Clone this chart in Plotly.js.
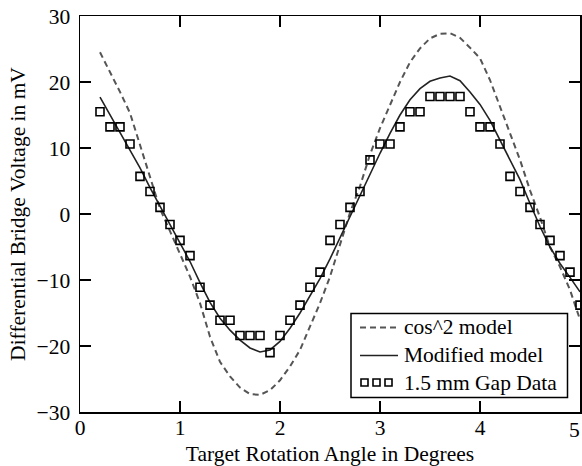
<!DOCTYPE html>
<html>
<head>
<meta charset="utf-8">
<script src="https://cdn.plot.ly/plotly-3.0.1.min.js"></script>
<style>html,body{margin:0;padding:0;background:#fff;}#chart{width:582px;height:466px;}</style>
</head>
<body>
<div id="chart"></div>
<script>
// Data
const angleModel = [0.2,0.3,0.4,0.5,0.6,0.7,0.8,0.9,1.0,1.1,1.2,1.3,1.4,1.5,1.6,1.7,1.8,1.9,2.0,2.1,2.2,2.3,2.4,2.5,2.6,2.7,2.8,2.9,3.0,3.1,3.2,3.3,3.4,3.5,3.6,3.7,3.8,3.9,4.0,4.1,4.2,4.3,4.4,4.5,4.6,4.7,4.8,4.9,5.0];
const cos2Model = [24.5,21.6,18.5,15.3,10.5,5.4,0.8,-2.6,-6.0,-9.5,-13.5,-18.6,-22.4,-24.6,-26.3,-27.3,-27.4,-26.7,-25.2,-23.1,-20.6,-17.1,-13.5,-9.5,-4.5,0.2,4.2,9.0,13.0,16.6,20.0,23.0,25.1,26.6,27.3,27.4,26.7,25.2,23.6,20.3,16.3,12.2,8.2,3.6,-0.5,-5.0,-8.0,-11.5,-16.0];
const modifiedModel = [17.7,15.0,12.4,9.7,7.0,4.0,1.2,-1.6,-4.3,-7.2,-10.4,-13.4,-15.8,-17.6,-19.1,-20.3,-20.9,-20.6,-19.3,-17.3,-15.0,-12.5,-9.8,-6.8,-3.6,-0.4,2.8,6.2,9.2,12.2,15.0,17.3,19.0,20.1,20.6,20.9,20.2,18.5,16.6,14.2,11.2,8.2,5.2,1.6,-1.9,-5.0,-7.5,-9.6,-11.8];
const angleData = [0.2,0.3,0.4,0.5,0.6,0.7,0.8,0.9,1.0,1.1,1.2,1.3,1.4,1.5,1.6,1.7,1.8,1.9,2.0,2.1,2.2,2.3,2.4,2.5,2.6,2.7,2.8,2.9,3.0,3.1,3.2,3.3,3.4,3.5,3.6,3.7,3.8,3.9,4.0,4.1,4.2,4.3,4.4,4.5,4.6,4.7,4.8,4.9,5.0];
const gapData = [15.5,13.2,13.2,10.6,5.7,3.4,1.0,-1.6,-4.0,-6.3,-11.1,-13.8,-16.1,-16.1,-18.4,-18.4,-18.4,-21.0,-18.4,-16.1,-13.8,-11.1,-8.8,-4.0,-1.6,1.0,3.4,8.2,10.6,10.6,13.2,15.5,15.5,17.8,17.8,17.8,17.8,15.5,13.2,13.2,10.6,5.7,3.4,1.0,-1.6,-4.0,-6.3,-8.8,-13.8];
const legendLabels = ["cos^2 model", "Modified model", "1.5 mm Gap Data"];
const lastTickValue = 5;
const xTitle = "Target Rotation Angle in Degrees";
const yTitle = "Differential Bridge Voltage in mV";

const FONT = "Liberation Serif, Times New Roman, serif";
const FS = 21.5;

const traces = [
  {x: angleModel, y: cos2Model, mode: 'lines', name: legendLabels[0],
   line: {color: '#555555', width: 2, dash: '6px,4px'}, showlegend: false},
  {x: angleModel, y: modifiedModel, mode: 'lines', name: legendLabels[1],
   line: {color: '#222222', width: 1.6}, showlegend: false},
  {x: angleData, y: gapData, mode: 'markers', name: legendLabels[2],
   marker: {symbol: 'square-open', size: 8, color: '#000', line: {width: 1.6, color: '#000'}}, showlegend: false}
];

// Custom legend (paper coordinates computed from pixel geometry)
const W = 500, H = 396, L = 80, T = 16;
const px = v => (v - L) / W;
const py = v => (T + H - v) / H;

const shapes = [
  {type: 'rect', xref: 'paper', yref: 'paper', x0: px(351), x1: px(567.5), y0: py(397.5), y1: py(313.5),
   line: {color: '#000', width: 1.5}, fillcolor: '#fff', layer: 'above'},
  {type: 'line', xref: 'paper', yref: 'paper', x0: px(360), x1: px(398), y0: py(327.5), y1: py(327.5),
   line: {color: '#555555', width: 2, dash: '6px,4px'}, layer: 'above'},
  {type: 'line', xref: 'paper', yref: 'paper', x0: px(360), x1: px(398), y0: py(355.5), y1: py(355.5),
   line: {color: '#222222', width: 1.6}, layer: 'above'}
];
[364.5, 376.5, 388.5].forEach(cx => {
  shapes.push({type: 'rect', xref: 'paper', yref: 'paper', x0: px(cx - 3.5), x1: px(cx + 3.5), y0: py(382.5 + 3.5), y1: py(382.5 - 3.5),
    line: {color: '#000', width: 1.6}, fillcolor: 'rgba(0,0,0,0)', layer: 'above'});
});

const annotations = legendLabels.map((t, i) => ({
  text: t, xref: 'paper', yref: 'paper', x: px(402), y: py([327, 355, 383][i]),
  xanchor: 'left', yanchor: 'middle', showarrow: false,
  font: {family: FONT, size: FS, color: '#000'}
}));
// Last x tick label, at the right edge of the picture (nudged so it stays inside)
annotations.push({
  text: String(lastTickValue), xref: 'x', yref: 'paper', x: lastTickValue, y: py(430),
  xanchor: 'right', yanchor: 'middle', xshift: 2, showarrow: false,
  font: {family: FONT, size: FS, color: '#000'}
});

const layout = {
  width: 582, height: 466,
  margin: {l: L, r: 2, t: T, b: 54},
  paper_bgcolor: '#fff', plot_bgcolor: '#fff',
  showlegend: false,
  font: {family: FONT, size: FS, color: '#000'},
  xaxis: {
    range: [0, 5], dtick: 1, tick0: 0,
    showgrid: false, zeroline: false,
    showline: true, linecolor: '#000', linewidth: 1.5, mirror: 'ticks',
    ticks: 'inside', ticklen: 11, tickwidth: 1.5, tickcolor: '#000',
    ticklabelstandoff: -4,
    tickfont: {family: FONT, size: FS, color: '#000'},
    title: {text: xTitle, font: {family: FONT, size: FS, color: '#000'}, standoff: 10}
  },
  yaxis: {
    range: [-30, 30], dtick: 10, tick0: 0,
    showgrid: false, zeroline: false,
    showline: true, linecolor: '#000', linewidth: 1.5, mirror: 'ticks',
    ticks: 'inside', ticklen: 11, tickwidth: 1.5, tickcolor: '#000',
    ticklabelstandoff: 4,
    tickfont: {family: FONT, size: FS, color: '#000'},
    title: {text: yTitle, font: {family: FONT, size: FS, color: '#000'}, standoff: 5}
  },
  shapes: shapes,
  annotations: annotations
};

Plotly.newPlot('chart', traces, layout, {displayModeBar: false, staticPlot: true});
</script>
</body>
</html>
